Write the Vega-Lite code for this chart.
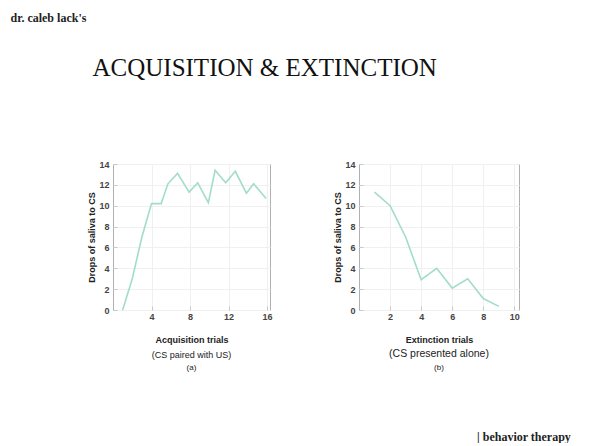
{
  "$schema": "https://vega.github.io/schema/vega-lite/v6.json",
  "padding": {"left": 10, "top": 12, "right": 0, "bottom": 0},
  "background": "white",
  "datasets": {
    "acq": [
      {"trial": 1, "drops": 0},
      {"trial": 2, "drops": 3},
      {"trial": 3, "drops": 7},
      {"trial": 4, "drops": 10.2},
      {"trial": 5, "drops": 10.2},
      {"trial": 5.7, "drops": 12.1},
      {"trial": 6.7, "drops": 13.1},
      {"trial": 7.9, "drops": 11.3},
      {"trial": 8.8, "drops": 12.2},
      {"trial": 9.9, "drops": 10.3},
      {"trial": 10.6, "drops": 13.4},
      {"trial": 11.7, "drops": 12.2},
      {"trial": 12.7, "drops": 13.3},
      {"trial": 13.85, "drops": 11.2},
      {"trial": 14.6, "drops": 12.1},
      {"trial": 15.9, "drops": 10.7}
    ],
    "ext": [
      {"trial": 1, "drops": 11.3},
      {"trial": 2, "drops": 10},
      {"trial": 3, "drops": 7},
      {"trial": 4, "drops": 2.9},
      {"trial": 5, "drops": 4},
      {"trial": 6, "drops": 2.1},
      {"trial": 7, "drops": 3},
      {"trial": 8, "drops": 1.1},
      {"trial": 9, "drops": 0.35}
    ]
  },
  "title": {
    "text": "dr. caleb lack's",
    "anchor": "start",
    "font": "Liberation Serif",
    "fontSize": 12,
    "fontWeight": "bold",
    "color": "#222",
    "baseline": "alphabetic",
    "offset": 22,
    "dx": -77
  },
  "vconcat": [
    {
      "title": {
        "text": "| behavior therapy",
        "orient": "bottom",
        "anchor": "end",
        "font": "Liberation Serif",
        "fontSize": 12,
        "fontWeight": "bold",
        "color": "#222",
        "baseline": "alphabetic",
        "offset": 68,
        "dx": 51
      },
      "vconcat": [
        {
          "title": {
            "text": "ACQUISITION & EXTINCTION",
            "anchor": "middle",
            "font": "Liberation Serif",
            "fontSize": 25,
            "fontWeight": "normal",
            "color": "#111",
            "baseline": "alphabetic",
            "offset": 58.5,
            "dx": -39
          },
          "spacing": 60,
          "hconcat": [
            {
              "width": 157,
              "height": 146,
              "data": {"name": "acq"},
              "mark": {"type": "line", "color": "#a3dccb", "strokeWidth": 1.6},
              "title": {
                "text": "(CS paired with US)",
                "subtitle": "(a)",
                "orient": "bottom",
                "anchor": "middle",
                "font": "Liberation Sans",
                "fontSize": 9,
                "fontWeight": "normal",
                "color": "#222",
                "subtitleFont": "Liberation Sans",
                "subtitleFontSize": 8,
                "subtitleColor": "#222",
                "subtitlePadding": 4,
                "offset": 7
              },
              "encoding": {
                "x": {
                  "field": "trial",
                  "type": "quantitative",
                  "scale": {"domain": [0, 16.3], "nice": false, "zero": false},
                  "axis": {"values": [4, 8, 12, 16], "title": "Acquisition trials"}
                },
                "y": {
                  "field": "drops",
                  "type": "quantitative",
                  "scale": {"domain": [0, 14], "nice": false},
                  "axis": {"values": [0, 2, 4, 6, 8, 10, 12, 14], "title": "Drops of saliva to CS"}
                }
              }
            },
            {
              "width": 160,
              "height": 146,
              "data": {"name": "ext"},
              "mark": {"type": "line", "color": "#a3dccb", "strokeWidth": 1.6},
              "title": {
                "text": "(CS presented alone)",
                "subtitle": "(b)",
                "orient": "bottom",
                "anchor": "middle",
                "font": "Liberation Sans",
                "fontSize": 10.5,
                "fontWeight": "normal",
                "color": "#222",
                "subtitleFont": "Liberation Sans",
                "subtitleFontSize": 8,
                "subtitleColor": "#222",
                "subtitlePadding": 4,
                "offset": 5
              },
              "encoding": {
                "x": {
                  "field": "trial",
                  "type": "quantitative",
                  "scale": {"domain": [0, 10.3], "nice": false, "zero": false},
                  "axis": {"values": [2, 4, 6, 8, 10], "title": "Extinction trials"}
                },
                "y": {
                  "field": "drops",
                  "type": "quantitative",
                  "scale": {"domain": [0, 14], "nice": false},
                  "axis": {"values": [0, 2, 4, 6, 8, 10, 12, 14], "title": "Drops of saliva to CS"}
                }
              }
            }
          ]
        }
      ]
    }
  ],
  "config": {
    "view": {"stroke": "#b0b0b0", "strokeWidth": 1},
    "axis": {
      "domain": false,
      "grid": true,
      "gridColor": "#f0f0f0",
      "ticks": true,
      "tickColor": "#c8c8c8",
      "tickSize": -4,
      "labelFont": "Liberation Sans",
      "labelFontSize": 9,
      "labelFontWeight": "bold",
      "labelColor": "#444",
      "titleFont": "Liberation Sans",
      "titleFontSize": 9,
      "titleFontWeight": "bold",
      "titleColor": "#222"
    },
    "axisX": {"labelPadding": 6, "titlePadding": 14},
    "axisY": {"labelPadding": 8, "titlePadding": 2}
  }
}
